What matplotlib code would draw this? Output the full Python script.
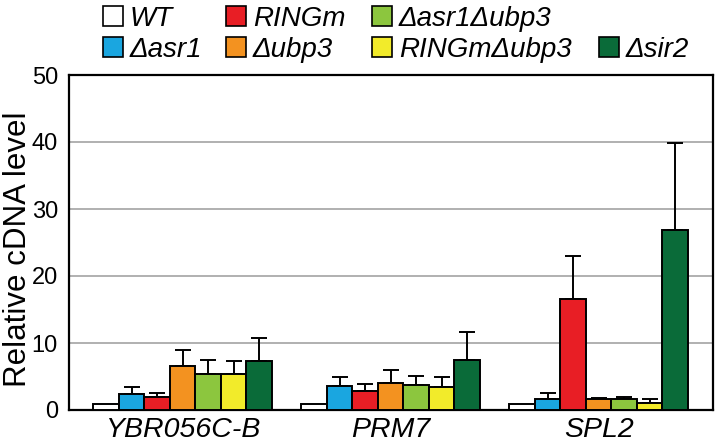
import numpy as np
import matplotlib
matplotlib.use("Agg")
import matplotlib.pyplot as plt
from matplotlib.patches import Rectangle

plt.rcParams['font.family'] = ['Liberation Sans', 'DejaVu Sans']

# data
genes = ["YBR056C-B", "PRM7", "SPL2"]
strains = ["WT", "Δasr1", "RINGm", "Δubp3", "Δasr1Δubp3", "RINGmΔubp3", "Δsir2"]
colors = ["#ffffff", "#1aa6e0", "#e81e25", "#f39220", "#8cc63e", "#f2eb2a", "#0a6b39"]

wt = [0.9, 0.9, 0.9]
asr1 = [2.4, 3.6, 1.6]
ringm = [1.9, 2.8, 16.5]
ubp3 = [6.6, 4.1, 1.6]
asr1_ubp3 = [5.3, 3.7, 1.7]
ringm_ubp3 = [5.3, 3.5, 1.1]
sir2 = [7.3, 7.4, 26.9]

wt_err = [0.0, 0.0, 0.0]
asr1_err = [1.0, 1.4, 1.0]
ringm_err = [0.7, 1.1, 6.5]
ubp3_err = [2.3, 1.9, 0.2]
asr1_ubp3_err = [2.1, 1.4, 0.3]
ringm_ubp3_err = [2.0, 1.5, 0.5]
sir2_err = [3.5, 4.2, 13.0]

values = [wt, asr1, ringm, ubp3, asr1_ubp3, ringm_ubp3, sir2]
errors = [wt_err, asr1_err, ringm_err, ubp3_err, asr1_ubp3_err, ringm_ubp3_err, sir2_err]

W, H = 717, 445
fig = plt.figure(figsize=(W / 100, H / 100), dpi=100)
ax = fig.add_axes([69 / W, 1 - 410 / H, 644 / W, 335 / H])

x = np.arange(len(genes))
w = 0.1226
for i, (vals, errs) in enumerate(zip(values, errors)):
    pos = x + (i - 3) * w
    ax.bar(pos, vals, width=w, color=colors[i], edgecolor="black", linewidth=1.4, zorder=3)
    errs = np.array(errs)
    show = errs > 0
    ax.errorbar(pos[show], np.array(vals)[show],
                yerr=[np.zeros(show.sum()), errs[show]],
                fmt="none", ecolor="black", elinewidth=1.4, capsize=6, capthick=1.4, zorder=2)

ax.set_xlim(-0.546, 2.55)
ax.set_ylim(0, 50)
ax.set_yticks([0, 10, 20, 30, 40, 50])
ax.yaxis.grid(True, color="#b0b0b0", linewidth=1.4, zorder=0)
ax.set_axisbelow(True)
ax.set_xticks(x)
ax.set_xticklabels(genes, fontstyle="italic", fontsize=20.5)
ax.tick_params(axis="both", length=0)
ax.tick_params(axis="y", labelsize=17, pad=8)
ax.tick_params(axis="x", pad=5)
for s in ax.spines.values():
    s.set_linewidth(1.6)
ax.set_ylabel("Relative cDNA level", fontsize=22.5)
ax.yaxis.set_label_coords(-0.056, 0.48)

# legend, laid out as in the reference: 3 entries on the top row, 4 below
slots = [(103, 16), (103, 47), (226, 16), (226, 47), (372, 16), (372, 47), (599, 47)]
sq = 20
for (px, py), name, c in zip(slots, strains, colors):
    fig.patches.append(Rectangle((px / W, 1 - (py + sq / 2) / H), sq / W, sq / H,
                                 facecolor=c, edgecolor="black", linewidth=1.2,
                                 transform=fig.transFigure, figure=fig))
    fig.text((px + sq + 7) / W, 1 - py / H, name, fontsize=20, fontstyle="italic",
             ha="left", va="center_baseline")

fig.savefig("out.png", dpi=100)
